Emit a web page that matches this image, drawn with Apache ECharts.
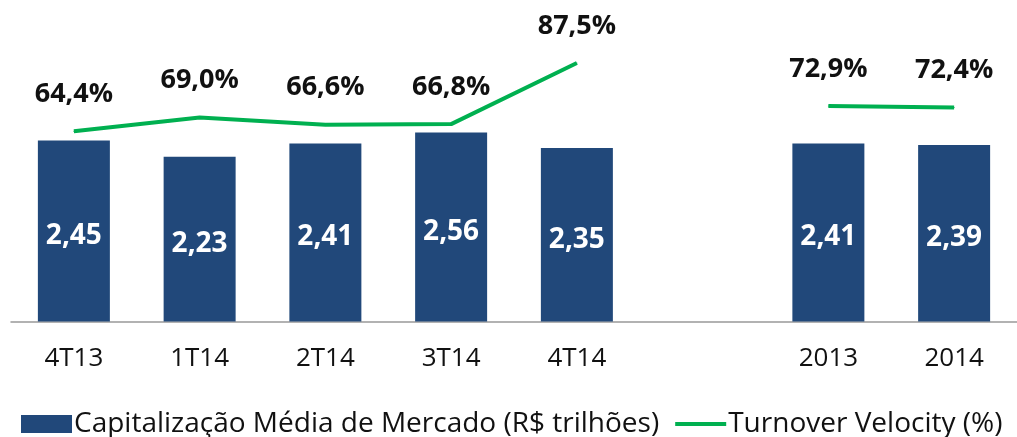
<!DOCTYPE html>
<html>
<head>
<meta charset="utf-8">
<script src="https://cdn.jsdelivr.net/npm/echarts@6/dist/echarts.min.js"></script>
<style>
html,body{margin:0;padding:0;background:#fff;}
#chart{width:1017px;height:437px;}
</style>
</head>
<body>
<div id="chart"></div>
<script>
const categories = ['4T13', '1T14', '2T14', '3T14', '4T14', '', '2013', '2014'];
const capitalizacao = [2.45, 2.23, 2.41, 2.56, 2.35, '-', 2.41, 2.39];
const turnover = [64.4, 69.0, 66.6, 66.8, 87.5, '-', 72.9, 72.4];
const barName = 'Capitalização Média de Mercado (R$ trilhões)';
const lineName = 'Turnover Velocity (%)';

const fmt = (v, d) => v.toFixed(d).replace('.', ',');
const FONT = 'Open Sans';

const chart = echarts.init(document.getElementById('chart'), null, {renderer: 'canvas'});
chart.setOption({
  animation: false,
  textStyle: {fontFamily: FONT},
  grid: {left: 11, right: 0, top: 26, bottom: 115.5, containLabel: false},
  legend: {
    left: 21, top: 410, padding: 0, width: 996,
    itemWidth: 51, itemHeight: 18, itemGap: 14,
    textStyle: {fontFamily: FONT, fontSize: 28, color: '#111', padding: [0, 0, 0, -3]},
    data: [
      {name: barName, icon: 'rect'},
      {name: lineName, itemStyle: {opacity: 0, borderWidth: 0}, lineStyle: {width: 4, color: '#00B050'}}
    ]
  },
  xAxis: {
    type: 'category',
    data: categories,
    axisLine: {lineStyle: {color: '#999', width: 1.5}},
    axisTick: {show: false},
    axisLabel: {fontFamily: FONT, fontSize: 26, color: '#111', margin: 24}
  },
  yAxis: [
    {type: 'value', min: 0, max: 4, show: false, splitLine: {show: false}},
    {type: 'value', min: 0, max: 100, show: false, splitLine: {show: false}}
  ],
  series: [
    {
      name: barName, type: 'bar', yAxisIndex: 0,
      data: capitalizacao,
      barWidth: 72,
      itemStyle: {color: '#21487A'},
      label: {
        show: true, position: 'inside', offset: [0, 5],
        fontFamily: FONT, fontSize: 28, fontWeight: 'bold', color: '#fff',
        formatter: p => fmt(p.value, 2)
      }
    },
    {
      name: lineName, type: 'line', yAxisIndex: 1,
      data: turnover,
      symbol: 'circle', symbolSize: 1, showSymbol: true,
      connectNulls: false,
      lineStyle: {color: '#00B050', width: 4},
      itemStyle: {color: '#00B050'},
      label: {
        show: true, position: 'top', distance: 23,
        fontFamily: FONT, fontSize: 27, fontWeight: 'bold', color: '#111',
        formatter: p => fmt(p.value, 1) + '%'
      }
    }
  ]
});
</script>
</body>
</html>
